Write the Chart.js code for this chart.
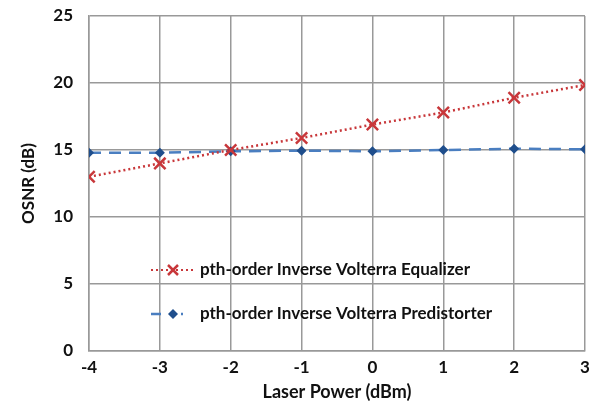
<!DOCTYPE html>
<html>
<head>
<meta charset="utf-8">
<script src="https://cdn.jsdelivr.net/npm/chart.js@4"></script>
<style>
  html, body { margin: 0; padding: 0; background: #fff; }
  #wrap { width: 602px; height: 407px; }
</style>
</head>
<body>
<div id="wrap"><canvas id="osnr"></canvas></div>
<script>
const laserPower = [-4, -3, -2, -1, 0, 1, 2, 3];
const equalizer = [13.0, 14.0, 15.0, 15.9, 16.9, 17.8, 18.9, 19.85];
const predistorter = [14.8, 14.8, 14.9, 14.95, 14.9, 15.0, 15.1, 15.05];
const seriesNames = ["pth-order Inverse Volterra Equalizer", "pth-order Inverse Volterra Predistorter"];

const FONT = "Lato, 'Open Sans', sans-serif";
const red = "#C8373A";
const blueLine = "#4A7EC0";
const blueDot = "#1F4E8C";

const toPts = (ys) => laserPower.map((x, i) => ({ x: x, y: ys[i] }));

// legend drawn inside the plot area
const innerLegend = {
  id: "innerLegend",
  afterDraw(chart) {
    const ctx = chart.ctx;
    const rows = [
      { y: 270, color: red, dash: [2, 3], width: 2, marker: "x" },
      { y: 314, color: blueLine, dash: [10, 12], width: 2.5, marker: "d" }
    ];
    ctx.save();
    rows.forEach((r, i) => {
      ctx.strokeStyle = r.color;
      ctx.lineWidth = r.width;
      ctx.setLineDash(r.dash);
      ctx.beginPath();
      ctx.moveTo(151, r.y);
      ctx.lineTo(194, r.y);
      ctx.stroke();
      ctx.setLineDash([]);
      const cx = 173;
      if (r.marker === "x") {
        ctx.strokeStyle = red;
        ctx.lineWidth = 2.5;
        ctx.beginPath();
        ctx.moveTo(cx - 5, r.y - 5); ctx.lineTo(cx + 5, r.y + 5);
        ctx.moveTo(cx + 5, r.y - 5); ctx.lineTo(cx - 5, r.y + 5);
        ctx.stroke();
      } else {
        ctx.fillStyle = blueDot;
        ctx.clearRect(cx - 8, r.y - 3, 16, 6);
        ctx.beginPath();
        ctx.moveTo(cx, r.y - 5); ctx.lineTo(cx + 5, r.y);
        ctx.lineTo(cx, r.y + 5); ctx.lineTo(cx - 5, r.y);
        ctx.closePath();
        ctx.fill();
      }
      ctx.fillStyle = "#111";
      ctx.font = "bold 17px " + FONT;
      ctx.textBaseline = "middle";
      ctx.fillText(seriesNames[i], 200, r.y);
    });
    ctx.restore();
  }
};

new Chart(document.getElementById("osnr"), {
  type: "line",
  data: {
    datasets: [
      {
        label: seriesNames[0],
        data: toPts(equalizer),
        borderColor: red,
        borderWidth: 2.5,
        borderDash: [2, 3],
        pointStyle: "crossRot",
        pointRadius: 8,
        pointBorderWidth: 2.5,
        pointBorderColor: red,
        backgroundColor: red
      },
      {
        label: seriesNames[1],
        data: toPts(predistorter),
        borderColor: blueLine,
        borderWidth: 2.5,
        borderDash: [12, 8],
        pointStyle: "rectRot",
        pointRadius: 5,
        pointBorderWidth: 0,
        pointBackgroundColor: blueDot,
        pointBorderColor: blueDot
      }
    ]
  },
  options: {
    responsive: true,
    maintainAspectRatio: false,
    animation: false,
    layout: { padding: { top: 16, right: 17, bottom: 0, left: 0 } },
    plugins: {
      legend: { display: false },
      tooltip: { enabled: false }
    },
    scales: {
      x: {
        type: "linear",
        min: -4,
        max: 3,
        afterFit: (s) => { s.height = 56; },
        ticks: {
          stepSize: 1,
          color: "#111",
          padding: 6,
          font: { family: FONT, size: 17, weight: "bold" }
        },
        grid: { color: "#999", lineWidth: 1.5, drawTicks: false },
        border: { color: "#999", width: 1.5 },
        title: {
          display: true,
          text: "Laser Power (dBm)",
          color: "#111",
          padding: { top: 9 },
          font: { family: FONT, size: 18, weight: "bold" }
        }
      },
      y: {
        min: 0,
        max: 25,
        afterFit: (s) => { s.width = 89; s.paddingTop = 0; s.paddingBottom = 0; },
        ticks: {
          stepSize: 5,
          color: "#111",
          padding: 16,
          font: { family: FONT, size: 17, weight: "bold" }
        },
        grid: { color: "#999", lineWidth: 1.5, drawTicks: false },
        border: { color: "#999", width: 1.5 },
        title: {
          display: true,
          text: "OSNR (dB)",
          color: "#111",
          padding: { top: 18 },
          font: { family: FONT, size: 17, weight: "bold" }
        }
      }
    }
  },
  plugins: [innerLegend]
});
</script>
</body>
</html>
